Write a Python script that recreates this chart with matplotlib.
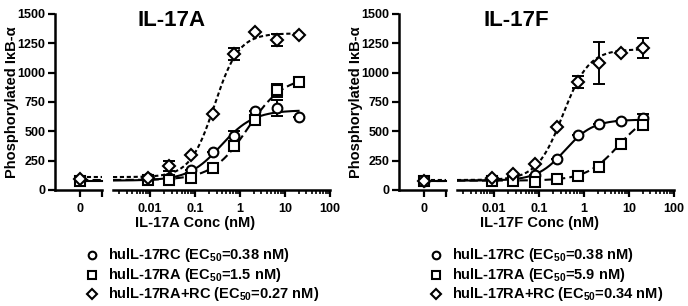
import numpy as np
import matplotlib
matplotlib.use("Agg")
import matplotlib.pyplot as plt
from matplotlib.lines import Line2D
from matplotlib.ticker import LogLocator, FixedLocator, NullFormatter

plt.rcParams['font.family'] = ['Liberation Sans', 'DejaVu Sans']
plt.rcParams['font.weight'] = 'bold'
plt.rcParams['mathtext.fontset'] = 'custom'
plt.rcParams['mathtext.rm'] = 'Liberation Sans:bold'
plt.rcParams['mathtext.bf'] = 'Liberation Sans:bold'
plt.rcParams['mathtext.default'] = 'bf'

# ---------------- data ----------------
conc = [0.009, 0.027, 0.082, 0.25, 0.74, 2.2, 6.7, 20]

# IL-17A panel
a_rc = [100, 100, 170, 320, 460, 670, 700, 625]
a_rc_err = [0, 0, 0, 0, 45, 0, 70, 0]
a_ra = [85, 85, 100, 185, 375, 600, 850, 920]
a_ra_err = [0, 0, 0, 0, 0, 0, 55, 0]
a_rarc = [100, 205, 300, 645, 1160, 1350, 1280, 1320]
a_rarc_err = [0, 45, 0, 0, 50, 0, 50, 0]
a_zero = [85, 75, 95]          # RC, RA, RA+RC at concentration 0

# IL-17F panel
f_rc = [85, 85, 130, 265, 465, 565, 590, 615]
f_rc_err = [0, 0, 0, 0, 0, 0, 0, 35]
f_ra = [80, 75, 65, 95, 120, 200, 395, 555]
f_ra_err = [0, 0, 0, 0, 0, 0, 0, 0]
f_rarc = [100, 140, 220, 540, 920, 1085, 1170, 1210]
f_rarc_err = [0, 0, 0, 0, 50, 180, 0, 85]
f_zero = [75, 75, 75]

# 4-parameter logistic fits (bottom, top, EC50, hill)
a_fits = [(80, 680, 0.38, 1.2), (85, 970, 1.5, 1.1), (110, 1335, 0.27, 1.6)]
f_fits = [(80, 600, 0.38, 1.4), (80, 680, 5.9, 1.2), (85, 1200, 0.34, 1.5)]

a_labels = [r"hulL-17RC (EC$_{50}$=0.38 nM)", r"hulL-17RA (EC$_{50}$=1.5 nM)",
            r"hulL-17RA+RC (EC$_{50}$=0.27 nM)"]
f_labels = [r"hulL-17RC (EC$_{50}$=0.38 nM)", r"hulL-17RA (EC$_{50}$=5.9 nM)",
            r"hulL-17RA+RC (EC$_{50}$=0.34 nM)"]

yticks = [0, 250, 500, 750, 1000, 1250, 1500]
xticks_log = [0.01, 0.1, 1, 10, 100]
xticklabels_log = ["0.01", "0.1", "1", "10", "100"]

markers = ['o', 's', 'D']
msizes = [7, 6.5, 6.5]
leg_sizes = [5.5, 5.5, 5]
styles = ['-', (0, (4, 2)), (0, (2, 1.3))]

def logistic(x, b, t, ec, h):
    return b + (t - b) / (1 + (ec / x) ** h)

W, H = 688, 306
fig = plt.figure(figsize=(W / 100, H / 100), dpi=100)

def fx(px):
    return px / W

def fy(py):
    return 1 - py / H

y_top, y_bot = 14, 190

def panel(x0, title, xlabel, series, errs, zeros, fits, labels):
    axz = fig.add_axes([fx(x0), fy(y_bot), fx(47), (y_bot - y_top) / H])
    axl = fig.add_axes([fx(x0 + 58), fy(y_bot), fx(217), (y_bot - y_top) / H])
    for ax in (axz, axl):
        ax.set_ylim(0, 1500)
        ax.patch.set_alpha(0)
        for s in ('top', 'right'):
            ax.spines[s].set_visible(False)
        ax.spines['bottom'].set_linewidth(1.8)
        ax.spines['left'].set_linewidth(1.8)
        ax.tick_params(width=1.6, length=5, labelsize=9, pad=2)
    # zero segment
    axz.set_xlim(-1.15, 1)
    axz.set_xticks([0, 1])
    axz.set_xticklabels(['0', ''])
    axz.set_yticks(yticks)
    axz.set_yticklabels([str(v) for v in yticks])
    axz.tick_params(axis='x', pad=4)
    # log segment
    axl.set_xscale('log')
    axl.set_xlim(0.0015, 100)
    axl.spines['left'].set_visible(False)
    axl.set_yticks([])
    axl.xaxis.set_major_locator(FixedLocator(xticks_log))
    axl.set_xticklabels(xticklabels_log)
    axl.xaxis.set_minor_locator(LogLocator(base=10, subs=np.arange(2, 10)))
    axl.xaxis.set_minor_formatter(NullFormatter())
    axl.tick_params(axis='x', which='minor', length=3, width=1.2)
    axl.tick_params(axis='x', which='major', length=5, width=1.6, pad=4)

    xs = np.logspace(np.log10(0.0015), np.log10(conc[-1]), 300)
    for i in range(3):
        b, t, ec, h = fits[i]
        axl.plot(xs, logistic(xs, b, t, ec, h), color='black', lw=1.5,
                 linestyle=styles[i], zorder=2)
        axz.plot([0, 1], [b, b], color='black', lw=1.5, linestyle=styles[i],
                 zorder=2, clip_on=False)
        e = np.array(errs[i], dtype=float)
        axl.errorbar(conc, series[i], yerr=e, fmt='none', ecolor='black',
                     elinewidth=1.4, capsize=4.5, capthick=1.4, zorder=3)
        axl.plot(conc, series[i], linestyle='none', marker=markers[i],
                 ms=msizes[i], mfc='white', mec='black', mew=1.5, zorder=4,
                 clip_on=False)
        axz.plot([0], [zeros[i]], linestyle='none', marker=markers[i],
                 ms=msizes[i], mfc='white', mec='black', mew=1.5, zorder=4,
                 clip_on=False)

    fig.text(fx(x0 + 117), fy(21), title, ha='center', va='center',
             fontsize=16, fontweight='bold')
    fig.text(fx(x0 - 43), fy(102), "Phosphorylated I\u03baB-\u03b1", rotation=90,
             ha='center', va='center', fontsize=10.5, fontweight='bold')
    fig.text(fx(x0 + 140), fy(223), xlabel, ha='center', va='center',
             fontsize=10.5, fontweight='bold')
    rows = [255, 275, 294]
    for i in range(3):
        fig.add_artist(Line2D([fx(x0 + 37)], [fy(rows[i])], transform=fig.transFigure,
                              marker=markers[i], ms=leg_sizes[i], mfc='white', mec='black',
                              mew=1.5, linestyle='none'))
        fig.text(fx(x0 + 53), fy(rows[i]), labels[i], ha='left', va='center',
                 fontsize=10.5, fontweight='bold')

panel(55, "IL-17A", "IL-17A Conc (nM)",
      [a_rc, a_ra, a_rarc], [a_rc_err, a_ra_err, a_rarc_err], a_zero, a_fits, a_labels)
panel(399, "IL-17F", "IL-17F Conc (nM)",
      [f_rc, f_ra, f_rarc], [f_rc_err, f_ra_err, f_rarc_err], f_zero, f_fits, f_labels)

fig.savefig("out.png", dpi=100)
